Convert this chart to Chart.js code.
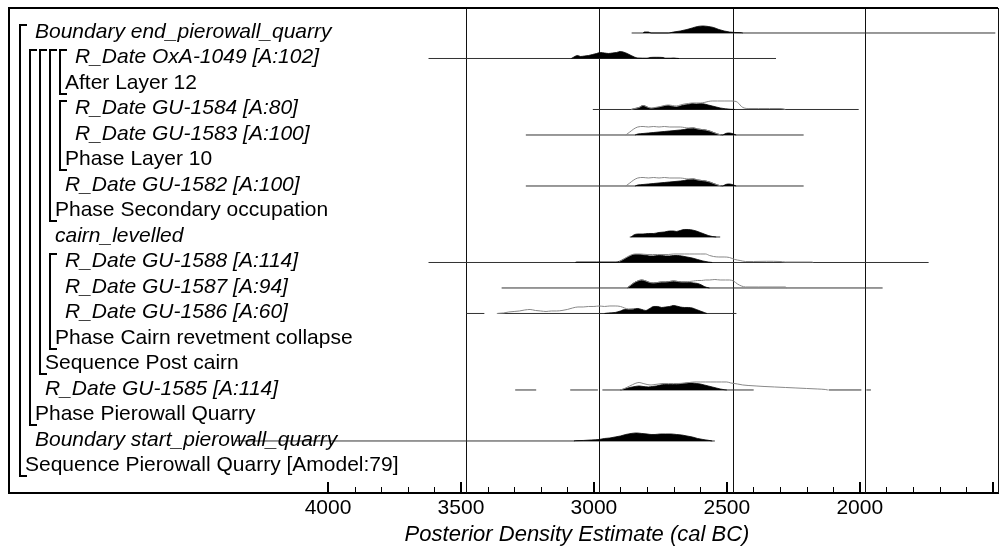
<!DOCTYPE html>
<html>
<head>
<meta charset="utf-8">
<script src="https://cdn.jsdelivr.net/npm/chart.js@4.4.1/dist/chart.umd.min.js"></script>
<style>
html,body{margin:0;padding:0;background:#fff;}
#wrap{width:1003px;height:552px;}
</style>
</head>
<body>
<div id="wrap"><canvas id="c" width="1003" height="552"></canvas></div>
<script>
// ---------- DATA ----------
const ROW_LABELS = [
  "Boundary end_pierowall_quarry",
  "R_Date OxA-1049 [A:102]",
  "After Layer 12",
  "R_Date GU-1584 [A:80]",
  "R_Date GU-1583 [A:100]",
  "Phase Layer 10",
  "R_Date GU-1582 [A:100]",
  "Phase Secondary occupation",
  "cairn_levelled",
  "R_Date GU-1588 [A:114]",
  "R_Date GU-1587 [A:94]",
  "R_Date GU-1586 [A:60]",
  "Phase Cairn revetment collapse",
  "Sequence Post cairn",
  "R_Date GU-1585 [A:114]",
  "Phase Pierowall Quarry",
  "Boundary start_pierowall_quarry",
  "Sequence Pierowall Quarry [Amodel:79]"
];
const ROW_ITALIC = [1,1,0,1,1,0,1,0,1,1,1,1,0,0,1,0,1,0];
const ROW_LEVEL  = [1,5,4,5,5,4,4,3,3,4,4,4,3,2,2,1,1,0];
// brackets: [depth, first child row, group row] (rows numbered from 1 at top)
const BRACKETS = [[0,1,18],[1,2,16],[2,2,14],[3,2,8],[3,10,13],[4,2,3],[4,4,6]];

const LABEL_TICKS = [4000,3500,3000,2500,2000];
const MAJOR_TICKS = [4000,3500,3000,2500,2000,1500];
const MINOR_TICKS = [3900,3800,3700,3600,3400,3300,3200,3100,2900,2800,2700,2600,2400,2300,2200,2100,1900,1800,1700,1600];
const GRID_LINES  = [3480,2980,2478,1980,1480];
const X_MIN = 1480, X_MAX = 5200;
const AXIS_TITLE = "Posterior Density Estimate (cal BC)";

// posterior densities [year BC, relative density]
const postEnd = [[2815,0],[2810,1],[2795,1],[2785,0],[2720,0],[2700,1],[2675,2],[2650,3.5],[2630,5],[2610,6.5],[2590,7],[2570,6.5],[2550,5.5],[2530,3.5],[2510,2],[2490,1],[2470,0.5],[2445,0.3],[2440,0]];
const postOxA1049 = [[3085,0],[3075,1.5],[3062,3],[3050,2],[3035,2.5],[3020,3],[3005,4],[2990,5],[2975,6],[2960,5.5],[2945,5],[2930,5.5],[2915,6],[2900,7],[2890,6.5],[2875,5],[2860,3],[2848,1.5],[2835,0.5],[2800,0.3],[2790,1],[2765,1.2],[2740,1],[2730,0.3],[2710,0.3],[2700,0.5],[2690,0.2],[2680,0]];
const postGU1584 = [[2860,0],[2845,1],[2830,2],[2815,4],[2800,2.5],[2785,1],[2770,1.5],[2750,2.5],[2735,3.5],[2720,4],[2705,3],[2690,2.5],[2675,3.5],[2660,4.5],[2645,5],[2630,6],[2615,5.5],[2600,6],[2585,5.5],[2570,4.5],[2555,3.5],[2540,2.5],[2525,1.5],[2505,0.7],[2485,0.2],[2470,0]];
const priorGU1584 = [[2860,0],[2845,1],[2830,2],[2815,4],[2800,2.5],[2785,1.5],[2770,2],[2750,3],[2735,4],[2720,4.5],[2705,4],[2690,3.5],[2675,4.5],[2660,5.5],[2645,6],[2630,6.5],[2615,6.5],[2600,6.5],[2585,7],[2570,8],[2555,8.5],[2535,8.5],[2510,8.5],[2485,8.5],[2465,8],[2455,6],[2445,3],[2435,1.5],[2420,1],[2380,1],[2340,1],[2300,1],[2285,0.5],[2280,0]];
const postGU1583 = [[2845,0],[2835,1],[2815,1.5],[2795,2],[2775,2.5],[2755,3],[2735,3.5],[2715,4],[2695,4.5],[2675,5],[2660,5.5],[2645,6.5],[2625,7],[2610,6],[2595,5.5],[2580,5],[2565,4],[2550,2.5],[2535,1],[2525,0.3],[2515,0],[2505,1.5],[2490,2],[2475,1],[2465,0]];
const priorGU1583 = [[2880,0],[2865,3],[2850,6],[2835,8],[2815,8.5],[2795,8],[2775,8.5],[2755,8],[2735,8.5],[2715,8],[2695,8],[2675,8],[2660,7.5],[2645,7],[2625,7],[2610,6],[2595,5.5],[2580,5],[2565,4],[2550,2.5],[2535,1],[2520,0]];
const postGU1582 = [[2845,0],[2835,1],[2815,1.5],[2795,2],[2775,2.5],[2755,3],[2735,3.5],[2715,4],[2695,4.5],[2675,5],[2660,5.5],[2645,6.5],[2625,7],[2610,6],[2595,5.5],[2580,5],[2565,4],[2550,2.5],[2535,1],[2525,0.3],[2515,0],[2505,1.5],[2490,2],[2475,1],[2465,0]];
const priorGU1582 = [[2880,0],[2865,3],[2850,6],[2835,8],[2815,8.5],[2795,8],[2775,8.5],[2755,8],[2735,8.5],[2715,8],[2695,8],[2675,8],[2660,7.5],[2645,7],[2625,7],[2610,6],[2595,5.5],[2580,5],[2565,4],[2550,2.5],[2535,1],[2520,0]];
const postCairn = [[2860,0],[2850,2],[2835,3],[2815,3],[2795,3.5],[2775,3.5],[2755,4.5],[2735,5],[2715,6],[2700,6],[2690,5.5],[2675,6.5],[2660,7.5],[2645,7.5],[2630,7],[2615,6],[2600,4.5],[2585,3],[2570,1.5],[2555,0.5],[2540,0]];
const postGU1588 = [[3070,0],[3065,0.5],[2990,0.5],[2920,0.5],[2905,1],[2890,3],[2875,5],[2860,7],[2845,8],[2830,8],[2815,7.5],[2800,7],[2790,6.5],[2775,6.5],[2760,7],[2745,7],[2730,6.5],[2715,6.5],[2700,7],[2685,7],[2670,6.5],[2650,5.5],[2630,4.5],[2610,3],[2590,1.5],[2570,0.5],[2555,0]];
const priorGU1588 = [[2905,1],[2890,3],[2875,5.5],[2860,7.5],[2845,8.5],[2825,8.5],[2800,8],[2780,8],[2760,8],[2740,8],[2720,8],[2700,8.5],[2680,8.5],[2660,8.5],[2640,8.5],[2620,8.5],[2600,8.5],[2580,8.5],[2565,7],[2550,6],[2530,5.5],[2510,5.5],[2490,5],[2470,3],[2450,2],[2430,1],[2400,1],[2350,1.2],[2300,1],[2280,0.5],[2180,0.5],[2175,0]];
const postGU1587 = [[2875,0],[2865,2],[2850,5],[2835,7],[2820,8],[2805,7],[2790,5.5],[2775,5],[2760,5.5],[2745,6],[2730,6],[2715,6.5],[2700,7],[2685,6.5],[2670,6],[2655,6],[2640,5.5],[2625,5],[2610,4.5],[2595,3],[2585,1.5],[2575,0.5],[2565,0]];
const priorGU1587 = [[2875,0],[2865,2],[2850,5],[2835,7],[2820,8],[2805,7],[2790,5.5],[2775,5],[2760,5.5],[2745,6],[2730,6],[2715,6.5],[2700,7],[2685,6.5],[2670,6],[2655,6],[2640,6.5],[2625,7],[2610,7.5],[2595,7.5],[2580,8],[2565,8],[2545,8.5],[2525,8],[2505,8],[2490,8],[2475,7],[2460,4],[2445,2],[2430,1],[2380,1],[2330,1],[2280,1],[2275,0]];
const postGU1586 = [[2960,0],[2945,0.5],[2920,1],[2900,2.5],[2885,4],[2870,4],[2850,4.5],[2835,5],[2820,4],[2805,3],[2790,5],[2775,7],[2760,7],[2745,6],[2730,6.5],[2715,7],[2700,8],[2690,7.5],[2675,6.5],[2660,6],[2645,6],[2630,5.5],[2615,4],[2600,2.5],[2585,1],[2575,0]];
const priorGU1586 = [[3365,0],[3340,0.5],[3320,1.5],[3300,2],[3280,2.5],[3260,3.5],[3240,4],[3220,3],[3200,2.5],[3180,2],[3160,2.5],[3140,2.5],[3120,3],[3100,4],[3080,5.5],[3060,6.5],[3040,6.5],[3020,7],[3000,7],[2980,7.5],[2960,7],[2940,7.5],[2920,7.5],[2900,7],[2885,5.5],[2870,4.5],[2850,4.5]];
const postGU1585 = [[2900,0],[2885,1],[2865,2.5],[2845,3.5],[2830,4],[2815,3.5],[2795,3],[2780,3.5],[2765,4],[2750,5],[2735,5.5],[2720,5.5],[2705,5.5],[2690,5.5],[2675,6],[2660,6.5],[2645,7],[2630,7],[2615,6.5],[2600,6],[2585,5],[2570,4],[2555,3],[2540,2],[2525,1],[2510,0.3],[2500,0]];
const priorGU1585 = [[2900,0],[2885,1.5],[2865,4],[2845,6.5],[2830,7.5],[2815,6.5],[2800,5.5],[2785,5],[2770,5.5],[2755,6],[2740,6.5],[2720,6.5],[2700,6.5],[2680,6.5],[2660,7],[2640,7.5],[2620,8],[2600,8],[2580,8],[2560,8],[2540,8],[2520,8],[2500,8],[2485,7],[2460,6],[2440,5],[2420,4.5],[2390,4],[2360,3.5],[2320,3],[2280,2.5],[2240,2],[2200,1.5],[2160,1],[2130,0.5],[2120,0]];
const postStart = [[3075,0],[3070,0.3],[3040,0.5],[3010,1],[2980,1.5],[2960,2.5],[2940,3],[2920,4],[2900,5],[2880,6.5],[2860,7.5],[2840,8],[2820,7.5],[2800,7],[2785,6.5],[2770,6.5],[2750,7],[2730,7],[2710,7],[2690,6.5],[2670,6],[2650,5],[2630,4],[2610,2.5],[2590,1.5],[2570,0.7],[2555,0]];

// range lines [row, from year, to year]
const RANGES = [
  [1,2858,1490],[2,3622,2315],[4,3004,2004],[5,3256,2211],[7,3256,2211],
  [9,2865,2525],[10,3622,1741],[11,3347,1914],[12,3480,3412],[12,3361,2464],
  [15,3296,3217],[15,3089,2985],[15,2968,2399],[15,2117,1994],[15,1975,1958],
  [17,4350,2545]
];
// distributions [row, posterior, prior]
const DISTS = [
  [1,postEnd,null],[2,postOxA1049,null],[4,postGU1584,priorGU1584],
  [5,postGU1583,priorGU1583],[7,postGU1582,priorGU1582],[9,postCairn,null],
  [10,postGU1588,priorGU1588],[11,postGU1587,priorGU1587],[12,postGU1586,priorGU1586],
  [15,postGU1585,priorGU1585],[17,postStart,null]
];

// ---------- STYLE ----------
const FONT = "'Liberation Sans', Arial, sans-serif";
const FSIZE = 21;
const TITLE_SIZE = 22;
const PX_PER_ROW = 25.5;
const DENS = 1 / PX_PER_ROW;

const datasets = [];
RANGES.forEach(([row,a,b]) => {
  datasets.push({type:'line', data:[{x:a,y:row},{x:b,y:row}], borderColor:'#333', borderWidth:1,
    pointRadius:0, fill:false, order:3});
});
DISTS.forEach(([row,post,prior]) => {
  datasets.push({type:'line', data: post.map(([yr,d]) => ({x:yr, y:row - d*DENS})),
    borderColor:'#000', borderWidth:0.8, backgroundColor:'#000', pointRadius:0,
    fill:{value:row}, cubicInterpolationMode:'monotone', order:2});
  if (prior) datasets.push({type:'line', data: prior.map(([yr,d]) => ({x:yr, y:row - d*DENS})),
    borderColor:'#888', borderWidth:1, pointRadius:0, fill:false,
    cubicInterpolationMode:'monotone', order:1});
});

const decor = {
  id:'decor',
  beforeDatasetsDraw(chart){
    const {ctx, chartArea:ca, scales:{x}} = chart;
    ctx.save();
    ctx.strokeStyle = '#111'; ctx.lineWidth = 1;
    GRID_LINES.forEach(v => {
      const px = Math.round(x.getPixelForValue(v)) + 0.5;
      ctx.beginPath(); ctx.moveTo(px, ca.top); ctx.lineTo(px, ca.bottom); ctx.stroke();
    });
    ctx.restore();
  },
  afterDraw(chart){
    const {ctx, chartArea:ca, scales:{x,y}} = chart;
    ctx.save();
    // frame top & left
    ctx.strokeStyle = '#000'; ctx.lineWidth = 2;
    ctx.beginPath(); ctx.moveTo(ca.left, ca.bottom); ctx.lineTo(ca.left, ca.top); ctx.lineTo(ca.right, ca.top); ctx.stroke();
    // tick marks (inside)
    ctx.lineWidth = 2;
    MAJOR_TICKS.forEach(v => {
      const px = Math.round(x.getPixelForValue(v));
      ctx.beginPath(); ctx.moveTo(px, ca.bottom); ctx.lineTo(px, ca.bottom - 11); ctx.stroke();
    });
    ctx.lineWidth = 1;
    MINOR_TICKS.forEach(v => {
      const px = Math.round(x.getPixelForValue(v)) + 0.5;
      ctx.beginPath(); ctx.moveTo(px, ca.bottom); ctx.lineTo(px, ca.bottom - 6); ctx.stroke();
    });
    // brackets
    ctx.lineWidth = 2;
    BRACKETS.forEach(([d, first, grp]) => {
      const bx = 20 + 10*d;
      const top = Math.round(y.getPixelForValue(first)) - 8;
      const bot = Math.round(y.getPixelForValue(grp)) + 10;
      ctx.beginPath(); ctx.moveTo(bx + 7, top); ctx.lineTo(bx, top); ctx.lineTo(bx, bot); ctx.lineTo(bx + 7, bot); ctx.stroke();
    });
    // labels
    ctx.fillStyle = '#000'; ctx.textBaseline = 'alphabetic'; ctx.textAlign = 'left';
    ROW_LABELS.forEach((t, i) => {
      ctx.font = (ROW_ITALIC[i] ? 'italic ' : '') + FSIZE + 'px ' + FONT;
      const py = y.getPixelForValue(i + 1) + 5;
      ctx.fillText(t, 25 + 10*ROW_LEVEL[i], py);
    });
    // axis title
    ctx.font = 'italic ' + TITLE_SIZE + 'px ' + FONT;
    ctx.textAlign = 'center';
    ctx.fillText(AXIS_TITLE, 577, 541);
    ctx.restore();
  }
};

new Chart(document.getElementById('c'), {
  type:'line',
  data:{datasets},
  options:{
    responsive:false, devicePixelRatio:1, animation:false,
    layout:{padding:{left:9, right:5, top:8, bottom:0}},
    plugins:{legend:{display:false}, tooltip:{enabled:false}},
    scales:{
      x:{type:'linear', reverse:true, min:X_MIN, max:X_MAX, position:'bottom',
        afterBuildTicks: s => { s.ticks = LABEL_TICKS.map(v => ({value:v})); },
        afterFit: s => { s.height = 59; },
        ticks:{color:'#000', font:{family:FONT, size:FSIZE}, padding:3, maxRotation:0, autoSkip:false,
          callback: v => String(v)},
        grid:{display:false, drawTicks:false},
        border:{display:true, color:'#000', width:2}
      },
      y:{type:'linear', reverse:true, min:0.02, max:19.04, display:false}
    }
  },
  plugins:[decor]
});
</script>
</body>
</html>
